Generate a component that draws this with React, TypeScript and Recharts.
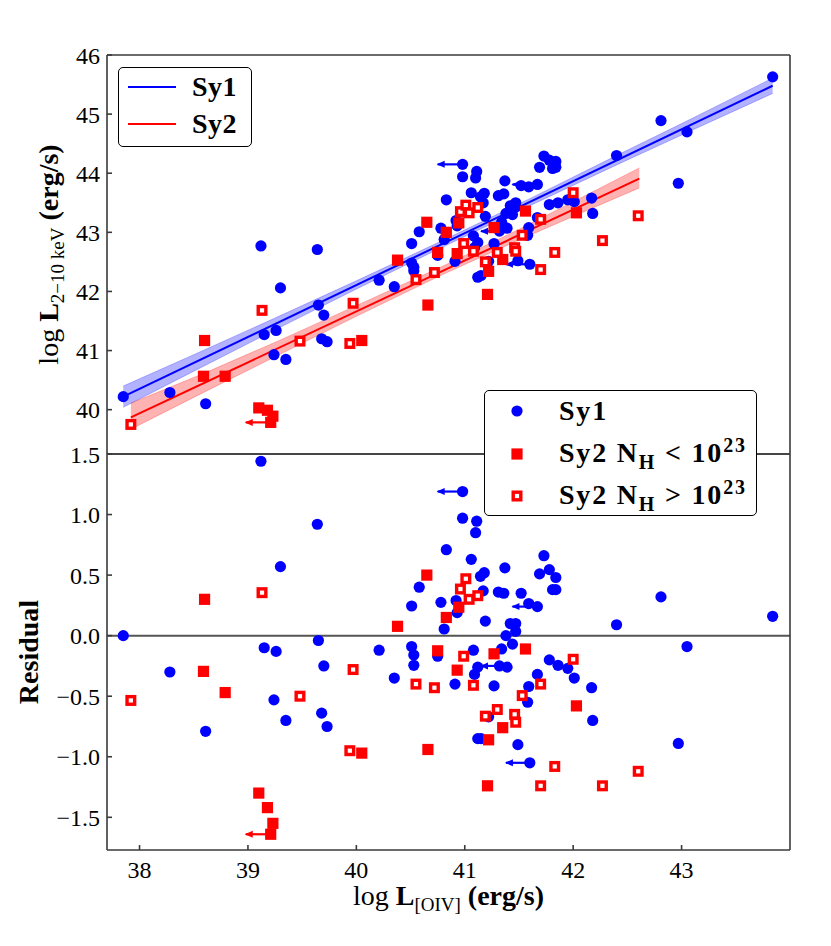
import React from "react";
import {
  ComposedChart,
  Scatter,
  Area,
  Line,
  XAxis,
  YAxis,
  ReferenceLine,
  Legend,
} from "recharts";

const FONT = '"Liberation Serif", "DejaVu Serif", serif';
const BLUE = "#0000ff";
const RED = "#ff0000";
const FRAME = "#3a3a3a";

// Sy1: log L[OIV], log L(2-10 keV), residual
const sy1LogOIV = [
  37.85, 38.28, 38.61, 39.12, 39.15, 39.24, 39.26, 39.3, 39.35, 39.64, 39.65, 39.68,
  39.7, 39.73, 40.21, 40.35, 40.51, 40.51, 40.53, 40.53, 40.58, 40.75, 40.78, 40.81,
  40.83, 40.91, 40.92, 40.93, 40.98, 40.98, 41.06, 41.08, 41.09, 41.1, 41.11, 41.12,
  41.12, 41.145, 41.15, 41.17, 41.18, 41.19, 41.22, 41.27, 41.31, 41.32, 41.34, 41.36,
  41.37, 41.38, 41.39, 41.42, 41.44, 41.47, 41.47, 41.49, 41.52, 41.58, 41.59, 41.59,
  41.6, 41.67, 41.67, 41.69, 41.73, 41.78, 41.78, 41.81, 41.84, 41.84, 41.86, 41.95,
  42.01, 42.17, 42.18, 42.4, 42.81, 42.97, 43.05, 43.84,
];
const sy1LogLx = [
  40.22, 40.29, 40.1, 42.77, 41.27, 40.93, 41.34, 42.06, 40.85, 42.71, 41.77, 41.2,
  41.6, 41.15, 42.19, 42.08, 42.81, 42.48, 42.41, 42.35, 43.01, 42.61, 43.07, 42.88,
  43.55, 42.51, 43.2, 43.11, 44.15, 43.94, 43.67, 42.94, 42.74, 43.92, 44.03, 42.83,
  42.24, 43.6, 42.27, 43.5, 43.66, 43.27, 42.51, 42.81, 43.62, 43.02, 43.17, 43.65,
  43.87, 43.32, 43.07, 43.45, 43.3, 43.5, 43.43, 42.52, 43.79, 42.95, 43.08, 43.77,
  42.46, 43.81, 43.25, 44.1, 44.29, 44.22, 43.47, 44.08, 44.2, 44.1, 43.5, 43.55,
  43.52, 43.58, 43.32, 44.3, 44.89, 43.83, 44.7, 45.63,
];
const sy1Resid = [
  0.0, -0.3, -0.79, 1.44, -0.1, -0.53, -0.13, 0.57, -0.7, 0.92, -0.04, -0.64,
  -0.25, -0.75, -0.12, -0.35, 0.245, -0.09, -0.16, -0.245, 0.4, -0.17, 0.275, 0.055,
  0.71, -0.4, 0.29, 0.19, 1.19, 0.97, 0.63, -0.12, -0.32, 0.85, 0.945, -0.26,
  -0.85, 0.49, -0.85, 0.37, 0.52, 0.12, -0.67, -0.415, 0.36, -0.25, -0.11, 0.35,
  0.56, 0.0, -0.26, 0.1, -0.07, 0.1, 0.035, -0.9, 0.35, -0.55, -0.42, 0.265,
  -1.05, 0.24, -0.32, 0.51, 0.66, 0.545, -0.2, 0.38, 0.48, 0.38, -0.245, -0.27,
  -0.35, -0.43, -0.7, 0.09, 0.32, -0.89, -0.09, 0.16,
];

// Sy2 with N_H < 1e23
const sy2lowLogOIV = [
  38.59, 38.6, 38.79, 39.1, 39.18, 39.21, 39.23, 40.05, 40.38, 40.65, 40.66,
  40.75, 40.83, 40.93, 40.945, 41.21, 41.22, 41.27, 41.35, 41.56, 42.03,
];
const sy2lowLogLx = [
  40.565, 41.17, 40.565, 40.03, 39.99, 39.785, 39.89, 41.17, 42.53, 43.17, 41.77,
  42.66, 43.0, 42.64, 43.16, 41.95, 42.34, 43.08, 42.54, 43.36, 43.33,
];
const sy2lowResid = [
  -0.295, 0.3, -0.47, -1.3, -1.42, -1.64, -1.55, -0.97, 0.077, 0.5, -0.94,
  -0.125, 0.15, -0.285, 0.235, -1.24, -0.86, -0.15, -0.76, -0.11, -0.58,
];

// Sy2 with N_H > 1e23
const sy2highLogOIV = [
  37.92, 39.13, 39.48, 39.94, 39.97, 40.55, 40.72, 40.96, 40.99, 41.01, 41.04, 41.08,
  41.12, 41.19, 41.3, 41.46, 41.47, 41.53, 41.7, 41.7, 41.83, 42.0, 42.27, 42.6,
];
const sy2highLogLx = [
  39.75, 41.68, 41.16, 41.12, 41.8, 42.2, 42.32, 43.35, 42.81, 43.46, 43.33, 42.68,
  43.42, 42.5, 42.66, 42.74, 42.68, 42.95, 43.22, 42.37, 42.66, 43.67, 42.86, 43.28,
];
const sy2highResid = [
  -0.535, 0.355, -0.5, -0.95, -0.28, -0.4, -0.43, 0.385, -0.17, 0.47, 0.3, -0.41,
  0.33, -0.665, -0.61, -0.65, -0.715, -0.495, -0.4, -1.24, -1.08, -0.195, -1.24, -1.12,
];

// upper limits on L[OIV] (arrow from point to tip)
const limColor = [BLUE, BLUE, BLUE, BLUE, RED];
const limLogOIV = [40.98, 41.32, 41.6, 41.67, 39.21];
const limTipLogOIV = [40.75, 41.15, 41.38, 41.44, 38.98];
const limLogLx = [44.15, 43.02, 42.46, 43.81, 39.785];
const limResid = [1.19, -0.25, -1.05, 0.24, -1.64];

// regression lines and their confidence bands
const fit1X = [37.85, 43.84];
const fit1Y = [40.22, 45.48];
const fit2X = [37.92, 42.61];
const fit2Y = [39.87, 43.91];
const band1X = [37.85, 38.5, 39.25, 40.0, 40.8, 41.6, 42.4, 43.1, 43.84];
const band1Lo = [40.04, 40.65, 41.35, 42.04, 42.755, 43.45, 44.14, 44.73, 45.35];
const band1Hi = [40.4, 40.93, 41.55, 42.18, 42.865, 43.57, 44.3, 44.93, 45.61];
const band2X = [37.92, 38.6, 39.3, 40.0, 40.8, 41.5, 42.1, 42.61];
const band2Lo = [39.67, 40.3, 40.94, 41.58, 42.29, 42.87, 43.35, 43.75];
const band2Hi = [40.11, 40.62, 41.18, 41.76, 42.43, 43.05, 43.61, 44.09];

const xTicks = [38, 39, 40, 41, 42, 43];
const lxTicks = [40, 41, 42, 43, 44, 45, 46];
const resTicks = [-1.5, -1.0, -0.5, 0.0, 0.5, 1.0, 1.5];

const X_DOMAIN: [number, number] = [37.7, 44.0];
const LX_DOMAIN: [number, number] = [39.25, 46];
const RES_DOMAIN: [number, number] = [-1.77, 1.5];

const toPts = (xs: number[], ys: number[]) => xs.map((x, i) => ({ x, y: ys[i] }));

const sy1Top = toPts(sy1LogOIV, sy1LogLx);
const sy1Bot = toPts(sy1LogOIV, sy1Resid);
const lowTop = toPts(sy2lowLogOIV, sy2lowLogLx);
const lowBot = toPts(sy2lowLogOIV, sy2lowResid);
const highTop = toPts(sy2highLogOIV, sy2highLogLx);
const highBot = toPts(sy2highLogOIV, sy2highResid);

const band1 = band1X.map((x, i) => ({ x, band: [band1Lo[i], band1Hi[i]] }));
const band2 = band2X.map((x, i) => ({ x, band: [band2Lo[i], band2Hi[i]] }));
const fit1 = fit1X.map((x, i) => ({ x, fit: fit1Y[i] }));
const fit2 = fit2X.map((x, i) => ({ x, fit: fit2Y[i] }));

const arrowSets = (ys: number[]) =>
  limLogOIV.map((x, i) => ({
    color: limColor[i],
    data: [
      { x: limTipLogOIV[i], y: ys[i], head: true },
      { x, y: ys[i], head: false },
    ],
  }));
const topArrows = arrowSets(limLogLx);
const botArrows = arrowSets(limResid);

const fitLegend = [
  { label: "Sy1", color: BLUE },
  { label: "Sy2", color: RED },
];

const tickStyle = { fill: "#000", fontSize: 24, fontFamily: FONT };
const resFmt = (v: number) => (v < 0 ? "\u2212" : "") + Math.abs(v).toFixed(1);

const Dot = (p: any) => <circle cx={p.cx} cy={p.cy} r={5.6} fill={BLUE} />;
const FilledSq = (p: any) => (
  <rect x={p.cx - 5.6} y={p.cy - 5.6} width={11.2} height={11.2} fill={RED} />
);
const OpenSq = (p: any) => (
  <rect
    x={p.cx - 3.8}
    y={p.cy - 3.8}
    width={7.6}
    height={7.6}
    fill="#fff"
    stroke={RED}
    strokeWidth={3.4}
  />
);
const headShape = (color: string) => (p: any) =>
  p.payload && p.payload.head ? (
    <polygon
      points={`${p.cx - 1},${p.cy} ${p.cx + 7},${p.cy - 3.5} ${p.cx + 7},${p.cy + 3.5}`}
      fill={color}
    />
  ) : (
    <g />
  );

const boxStyle: React.CSSProperties = {
  boxSizing: "border-box",
  position: "relative",
  background: "#fff",
  border: "1.5px solid #000",
  borderRadius: 5,
  fontFamily: FONT,
  fontWeight: "bold",
  fontSize: 28,
  color: "#000",
  letterSpacing: 0.5,
};

const FitLegend = () => (
  <div style={{ ...boxStyle, width: 134, height: 80 }}>
    {fitLegend.map((item, i) => (
      <div
        key={item.label}
        style={{
          position: "absolute",
          left: 0,
          top: 3 + i * 37,
          height: 32,
          lineHeight: "32px",
          display: "flex",
          alignItems: "center",
        }}
      >
        <svg width={73} height={32}>
          <line x1={9} x2={57} y1={16} y2={16} stroke={item.color} strokeWidth={2} />
        </svg>
        <span>{item.label}</span>
      </div>
    ))}
  </div>
);

const small: React.CSSProperties = { fontSize: 20, position: "relative" };

const markerLegend = [
  { key: "sy1", marker: <circle cx={16} cy={16} r={5.6} fill={BLUE} />, text: <span>Sy1</span> },
  {
    key: "low",
    marker: <rect x={10.4} y={10.4} width={11.2} height={11.2} fill={RED} />,
    text: (
      <span>
        Sy2 N<span style={{ ...small, top: 7 }}>H</span> &lt; 10
        <span style={{ ...small, top: -10 }}>23</span>
      </span>
    ),
  },
  {
    key: "high",
    marker: (
      <rect x={12.2} y={12.2} width={7.6} height={7.6} fill="#fff" stroke={RED} strokeWidth={3.4} />
    ),
    text: (
      <span>
        Sy2 N<span style={{ ...small, top: 7 }}>H</span> &gt; 10
        <span style={{ ...small, top: -10 }}>23</span>
      </span>
    ),
  },
];

const MarkerLegend = () => (
  <div style={{ ...boxStyle, width: 273, height: 126, letterSpacing: 1.8 }}>
    {markerLegend.map((item, i) => (
      <div
        key={item.key}
        style={{
          position: "absolute",
          left: 16,
          top: 4 + i * 42.5,
          height: 32,
          lineHeight: "32px",
          display: "flex",
          alignItems: "center",
          whiteSpace: "nowrap",
        }}
      >
        <svg width={58} height={32}>
          {item.marker}
        </svg>
        {item.text}
      </div>
    ))}
  </div>
);

const LxLabel = (p: any) => {
  const vb = p.viewBox || { x: 0, y: 55, width: 107, height: 399 };
  const cx = vb.x + 58;
  const cy = vb.y + vb.height / 2;
  return (
    <text
      x={cx}
      y={cy}
      transform={`rotate(-90, ${cx}, ${cy})`}
      textAnchor="middle"
      fontFamily={FONT}
      fontSize={28}
      fill="#000"
    >
      <tspan>log </tspan>
      <tspan fontWeight="bold">L</tspan>
      <tspan fontSize={19} dy={6}>
        2{"\u2212"}10 keV
      </tspan>
      <tspan fontWeight="bold" dy={-6}>
        {" "}(erg/s)
      </tspan>
    </text>
  );
};

const ResLabel = (p: any) => {
  const vb = p.viewBox || { x: 0, y: 14, width: 107, height: 396 };
  const cx = vb.x + 38;
  const cy = vb.y + vb.height / 2;
  return (
    <text
      x={cx}
      y={cy}
      transform={`rotate(-90, ${cx}, ${cy})`}
      textAnchor="middle"
      fontFamily={FONT}
      fontSize={28}
      fontWeight="bold"
      fill="#000"
    >
      Residual
    </text>
  );
};

const OivLabel = (p: any) => {
  const vb = p.viewBox || { x: 107, y: 410, width: 683, height: 96 };
  const cx = vb.x + vb.width / 2;
  const cy = vb.y + 55;
  return (
    <text x={cx} y={cy} textAnchor="middle" fontFamily={FONT} fontSize={28} fill="#000">
      <tspan>log </tspan>
      <tspan fontWeight="bold">L</tspan>
      <tspan fontSize={19} dy={6}>
        [OIV]
      </tspan>
      <tspan fontWeight="bold" dy={-6}>
        {" "}(erg/s)
      </tspan>
    </text>
  );
};

const axisCommon = {
  type: "number" as const,
  allowDataOverflow: true,
  stroke: FRAME,
  strokeWidth: 1.6,
  tickSize: -5,
  interval: 0 as const,
};

const App = () => {
  return (
    <div style={{ position: "absolute", left: 0, top: 0, width: 831, height: 946, background: "#fff" }}>
      <div style={{ position: "absolute", left: 0, top: 0 }}>
        <ComposedChart width={831} height={470} margin={{ top: 0, right: 0, bottom: 0, left: 0 }}>
          <XAxis
            {...axisCommon}
            xAxisId="b"
            dataKey="x"
            domain={X_DOMAIN}
            ticks={xTicks}
            orientation="bottom"
            height={16}
            tick={false}
          />
          <XAxis
            {...axisCommon}
            xAxisId="t"
            dataKey="x"
            domain={X_DOMAIN}
            ticks={xTicks}
            orientation="top"
            height={55}
            tick={false}
          />
          <YAxis
            {...axisCommon}
            yAxisId="l"
            dataKey="y"
            domain={LX_DOMAIN}
            ticks={lxTicks}
            width={107}
            tickMargin={12}
            tick={tickStyle}
            label={<LxLabel />}
          />
          <YAxis
            {...axisCommon}
            yAxisId="r"
            dataKey="y"
            orientation="right"
            domain={LX_DOMAIN}
            ticks={lxTicks}
            width={41}
            tick={false}
          />
          <Area
            xAxisId="b"
            yAxisId="l"
            data={band1}
            dataKey="band"
            type="linear"
            fill={BLUE}
            fillOpacity={0.3}
            stroke={BLUE}
            strokeOpacity={0.25}
            strokeWidth={1}
            isAnimationActive={false}
            legendType="none"
          />
          <Area
            xAxisId="b"
            yAxisId="l"
            data={band2}
            dataKey="band"
            type="linear"
            fill={RED}
            fillOpacity={0.3}
            stroke={RED}
            strokeOpacity={0.25}
            strokeWidth={1}
            isAnimationActive={false}
            legendType="none"
          />
          <Line
            xAxisId="b"
            yAxisId="l"
            data={fit1}
            dataKey="fit"
            type="linear"
            stroke={BLUE}
            strokeWidth={2}
            dot={false}
            isAnimationActive={false}
            name="Sy1"
          />
          <Line
            xAxisId="b"
            yAxisId="l"
            data={fit2}
            dataKey="fit"
            type="linear"
            stroke={RED}
            strokeWidth={2}
            dot={false}
            isAnimationActive={false}
            name="Sy2"
          />
          {topArrows.map((a, i) => (
            <Scatter
              key={`ta${i}`}
              xAxisId="b"
              yAxisId="l"
              data={a.data}
              line={{ stroke: a.color, strokeWidth: 2.2 }}
              shape={headShape(a.color)}
              isAnimationActive={false}
              legendType="none"
            />
          ))}
          <Scatter xAxisId="b" yAxisId="l" data={sy1Top} shape={Dot} isAnimationActive={false} legendType="none" />
          <Scatter xAxisId="b" yAxisId="l" data={lowTop} shape={FilledSq} isAnimationActive={false} legendType="none" />
          <Scatter xAxisId="b" yAxisId="l" data={highTop} shape={OpenSq} isAnimationActive={false} legendType="none" />
          <Legend
            layout="vertical"
            align="center"
            verticalAlign="middle"
            content={() => <FitLegend />}
            wrapperStyle={{ left: 118, top: 67, width: 134, height: 80 }}
          />
        </ComposedChart>
      </div>
      <div style={{ position: "absolute", left: 0, top: 440 }}>
        <ComposedChart width={831} height={506} margin={{ top: 0, right: 0, bottom: 0, left: 0 }}>
          <XAxis
            {...axisCommon}
            xAxisId="b"
            dataKey="x"
            domain={X_DOMAIN}
            ticks={xTicks}
            orientation="bottom"
            height={96}
            tickMargin={16}
            tick={tickStyle}
            label={<OivLabel />}
          />
          <XAxis
            {...axisCommon}
            xAxisId="t"
            dataKey="x"
            domain={X_DOMAIN}
            ticks={xTicks}
            orientation="top"
            height={14}
            tick={false}
          />
          <YAxis
            {...axisCommon}
            yAxisId="l"
            dataKey="y"
            domain={RES_DOMAIN}
            ticks={resTicks}
            width={107}
            tickMargin={12}
            tick={tickStyle}
            tickFormatter={resFmt}
            label={<ResLabel />}
          />
          <YAxis
            {...axisCommon}
            yAxisId="r"
            dataKey="y"
            orientation="right"
            domain={RES_DOMAIN}
            ticks={resTicks}
            width={41}
            tick={false}
          />
          <ReferenceLine xAxisId="b" yAxisId="l" y={0} stroke="#555" strokeWidth={2} />
          {botArrows.map((a, i) => (
            <Scatter
              key={`ba${i}`}
              xAxisId="b"
              yAxisId="l"
              data={a.data}
              line={{ stroke: a.color, strokeWidth: 2.2 }}
              shape={headShape(a.color)}
              isAnimationActive={false}
              legendType="none"
            />
          ))}
          <Scatter xAxisId="b" yAxisId="l" data={sy1Bot} shape={Dot} isAnimationActive={false} name="Sy1" />
          <Scatter xAxisId="b" yAxisId="l" data={lowBot} shape={FilledSq} isAnimationActive={false} name="low" />
          <Scatter xAxisId="b" yAxisId="l" data={highBot} shape={OpenSq} isAnimationActive={false} name="high" />
          <Legend
            layout="vertical"
            align="center"
            verticalAlign="middle"
            content={() => <MarkerLegend />}
            wrapperStyle={{ left: 484, top: -50, width: 273, height: 126 }}
          />
        </ComposedChart>
      </div>
    </div>
  );
};

export default App;
